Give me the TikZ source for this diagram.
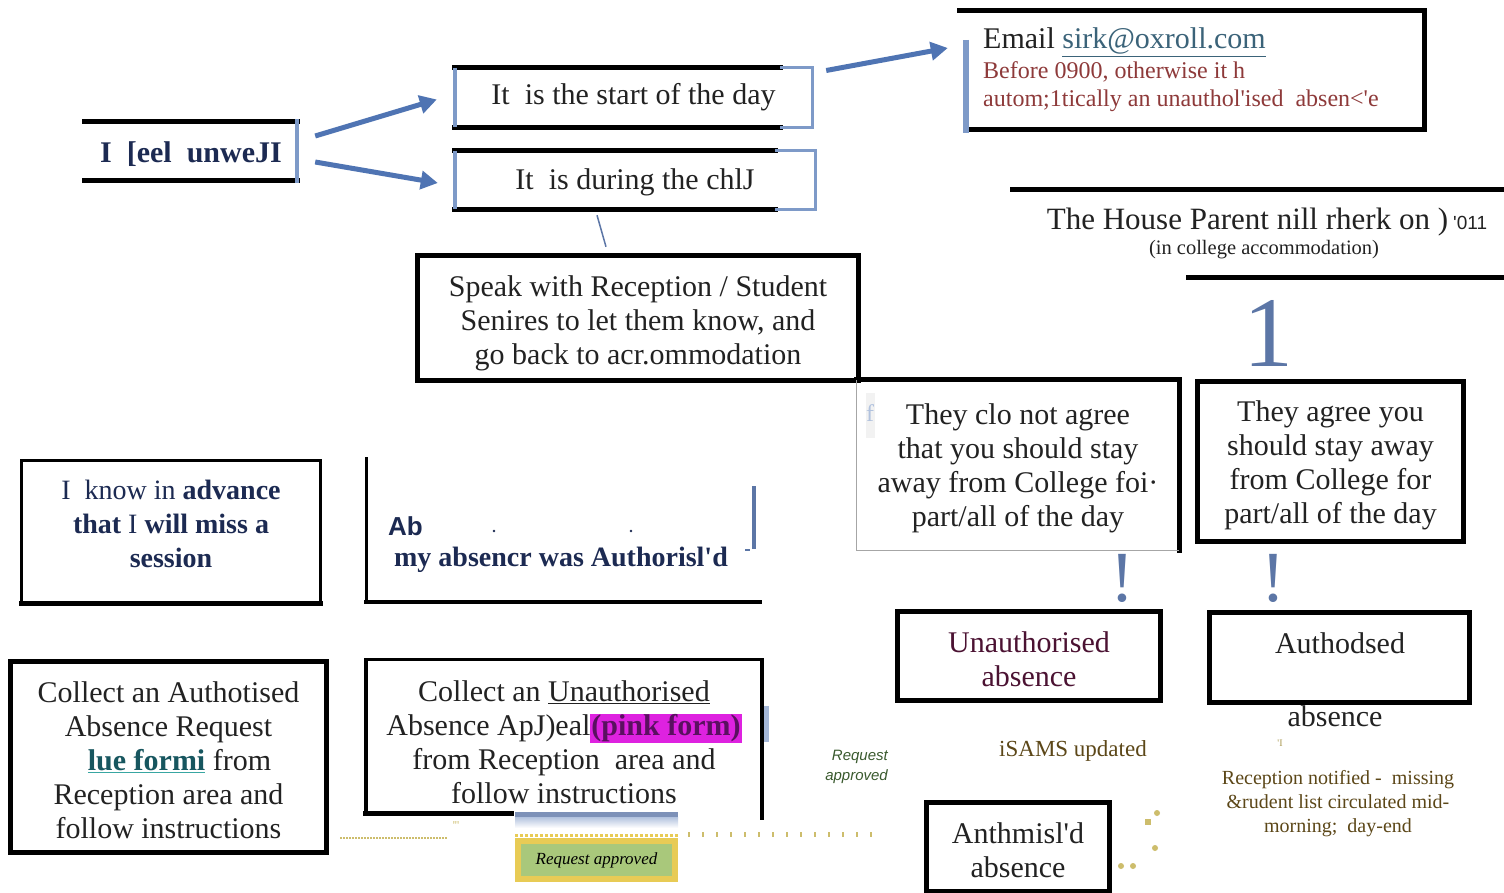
\documentclass[tikz,border=0pt]{standalone}
\usepackage{fontspec}
\setmainfont{Liberation Serif}
\setsansfont{Liberation Sans}
\usepackage{xcolor}
\usetikzlibrary{arrows.meta}

\definecolor{navy}{HTML}{1C2A52}
\definecolor{arrowblue}{HTML}{4F74B3}
\definecolor{edgeblue}{HTML}{7E9AC8}
\definecolor{markblue}{HTML}{5C76A6}
\definecolor{linkblue}{HTML}{3B6379}
\definecolor{notered}{HTML}{8E3A3A}
\definecolor{maroon}{HTML}{4B1232}
\definecolor{olive}{HTML}{5C4718}
\definecolor{leafgreen}{HTML}{3A5A2E}
\definecolor{tealtext}{HTML}{17565F}
\definecolor{tealline}{HTML}{38A6A2}
\definecolor{pinkhl}{HTML}{DE22E0}
\definecolor{pinktext}{HTML}{5A1060}
\definecolor{dotgold}{HTML}{CDBD6C}
\definecolor{boxyellow}{HTML}{E8CB55}
\definecolor{boxgreen}{HTML}{A9C87B}
\definecolor{textgray}{HTML}{222222}

\begin{document}
\begin{tikzpicture}[x=1pt,y=-1pt,>={Triangle[length=17pt,width=18pt]},
  txt/.style={align=center,inner sep=0pt,text=textgray,font=\fontsize{30}{34}\selectfont},
  bar/.style={line width=5pt,line cap=rect},
  thinbar/.style={line width=3pt,line cap=rect},
  bluebar/.style={line width=4pt,draw=edgeblue},
  arr/.style={->,line width=5pt,draw=arrowblue}]
\useasboundingbox (0,0) rectangle (1504,893);
\fill[white] (0,0) rectangle (1504,893);

% top row
\node[txt,font=\fontsize{30}{34}\selectfont\bfseries,text=navy,minimum width=212pt,minimum height=59pt] (feel) at (191,154) {I\ \ [eel\ \ unweJI};
\draw[bar] ([shift={(0,-3)}]feel.north west) -- ([shift={(0,-3)}]feel.north east);
\draw[bar] ([shift={(0,-3)}]feel.south west) -- ([shift={(0,-3)}]feel.south east);
\draw[bluebar] ([shift={(0,-5)}]feel.north east) -- ([shift={(0,-1)}]feel.south east);

\node[txt,minimum width=357pt,minimum height=59pt] (start) at (633.5,97.5) {It\ \ is the start of the day};
\draw[bar] (start.north west) -- ([shift={(-32,0)}]start.north east);
\draw[bar] (start.south west) -- ([shift={(-32,0)}]start.south east);
\draw[bluebar] (start.north west) -- (start.south west);
\draw[bluebar,line width=3pt] ([shift={(-32,0)}]start.north east) -- (start.north east) -- (start.south east) -- ([shift={(-32,0)}]start.south east);

\node[txt,minimum width=360pt,minimum height=58pt] (during) at (635,182) {It\ \ is during the chlJ};
\draw[bar] ([shift={(0,-2)}]during.north west) -- ([shift={(-40,-2)}]during.north east);
\draw[bar] ([shift={(0,-2)}]during.south west) -- ([shift={(-40,-2)}]during.south east);
\draw[bluebar] ([shift={(0,-2)}]during.north west) -- ([shift={(0,-2)}]during.south west);
\draw[bluebar,line width=3pt] ([shift={(-40,-2)}]during.north east) -- ([shift={(0,-2)}]during.north east) -- ([shift={(0,-2)}]during.south east) -- ([shift={(-40,-2)}]during.south east);

\node[minimum width=458pt,minimum height=118pt,inner sep=0pt] (email) at (1195,70) {};
\draw[bar] ([shift={(-6,0)}]email.north west) -- (email.north east) -- (email.south east);
\draw[bar] ([shift={(4,0)}]email.south west) -- (email.south east);
\draw[bluebar,line width=6pt] ([shift={(0,29)}]email.north west) -- ([shift={(0,4)}]email.south west);
\node[txt,anchor=base west] (emailhead) at (983,49) {Email {\color{linkblue}\underline{sirk@oxroll.com}}};
\node[txt,anchor=north west,align=left,text=notered,font=\fontsize{24}{28}\selectfont] (emailnote) at (983,61) {Before 0900, otherwise it h\\autom;1tically an unauthol\textquotesingle ised\ \ absen<\textquotesingle e};

\draw[arr] ([shift={(18,-18)}]feel.east) -- ([shift={(-18,2)}]start.west);
\draw[arr] ([shift={(18,8)}]feel.east) -- ([shift={(-17,1)}]during.west);
\draw[arr] ([shift={(14,-27)}]start.east) -- ([shift={(-18,-22)}]email.west);

% house parent
\draw[bar] (1012,190) -- (1504,190);
\node[txt,anchor=base,font=\fontsize{31}{34}\selectfont] (house) at (1267,230) {The House Parent nill rherk on )\,{\sffamily\fontsize{19}{20}\selectfont\textquotesingle 011}};
\node[txt,anchor=base,font=\fontsize{20.5}{24}\selectfont] (housenote) at (1264,255) {(in college accommodation)};
\draw[bar] (1188,278) -- (1504,278);
\node[txt,text=markblue,font=\fontsize{100}{100}\selectfont] (one) at (1268,333) {1};

% middle
\node[txt,minimum width=440pt,minimum height=124pt] (speak) at (638,323) {Speak with Reception / Student\\Senires to let them know, and\\go back to acr.ommodation};
\draw[bar] ([shift={(0,-5)}]speak.north west) rectangle ([shift={(0,-5)}]speak.south east);
\draw[markblue,line width=1.5pt] ([shift={(-38,4)}]during.south) -- ([shift={(-32,-14)}]speak.north);

\node[txt,minimum width=322pt,minimum height=170pt] (noagree) at (1018,468) {They clo not agree\\that you should stay\\away from College foi·\\part/all of the day};
\draw[bar] ([shift={(0,-3)}]noagree.north west) -- ([shift={(0,-3)}]noagree.north east) -- ([shift={(0,-3)}]noagree.south east);
\draw[gray!70,line width=1.2pt] ([shift={(0,-3)}]noagree.north west) -- ([shift={(0,-3)}]noagree.south west) -- ([shift={(0,-3)}]noagree.south east);
\fill[gray!10] (866,393) rectangle (875,438);
\node[inner sep=0pt,text=edgeblue!60,font=\fontsize{24}{24}\selectfont] (fmark) at (870,413) {f};

\node[txt,minimum width=265pt,minimum height=159pt] (agree) at (1330.5,465.5) {They agree you\\should stay away\\from College for\\part/all of the day};
\draw[bar] ([shift={(0,-4)}]agree.north west) rectangle ([shift={(0,-4)}]agree.south east);

\node[txt,text=markblue,font=\fontsize{72}{72}\selectfont] (warnno) at (1122,578) {!};
\node[txt,text=markblue,font=\fontsize{72}{72}\selectfont] (warnyes) at (1273,578) {!};

% advance
\node[minimum width=298pt,minimum height=142pt,inner sep=0pt] (know) at (171,532) {};
\draw[thinbar] (know.south west) -- (know.north west) -- (know.north east) -- (know.south east);
\draw[bar] (know.south west) -- (know.south east);
\node[txt,text=navy,font=\fontsize{28}{34}\selectfont] (knowtext) at (171,524) {I\ \ know in \textbf{advance}\\\textbf{that} I \textbf{will miss a}\\\textbf{session}};

\draw[thinbar] (366,458) -- (366,602);
\draw[bar,line width=4pt] (366,602) -- (760,602);
\node[inner sep=0pt,anchor=base west,text=navy,font=\sffamily\bfseries\fontsize{26}{30}\selectfont] (abtext) at (388,535) {Ab};
\fill[navy] (494,531) circle (1.3);
\fill[navy] (631,531) circle (1.3);
\node[txt,text=navy,font=\fontsize{28}{34}\selectfont\bfseries] (authd) at (561,560) {my absencr was Authorisl\textquotesingle d};
\draw[markblue,line width=4pt] (754,486) -- (754,549);
\draw[markblue,line width=2pt] (745,550) -- (750,550);

% forms
\node[txt,minimum width=315pt,minimum height=190pt] (authform) at (168.5,760) {Collect an Authotised\\Absence Request\\\hspace*{22pt}\textcolor{tealline}{\underline{\textcolor{tealtext}{\textbf{lue formi}}}} from\\Reception area and\\follow instructions};
\draw[bar] ([shift={(0,-3)}]authform.north west) rectangle ([shift={(0,-3)}]authform.south east);

\node[txt,minimum width=396pt,minimum height=153pt] (unauthform) at (564,742.5) {Collect an \underline{Unauthorised}\\Absence ApJ)eal{\setlength{\fboxsep}{1pt}\colorbox{pinkhl}{\textbf{\textcolor{pinktext}{(pink form)}}}}\\from Reception\ \ area and\\follow instructions};
\draw[thinbar] ([shift={(0,-6)}]unauthform.north west) -- ([shift={(0,-6)}]unauthform.north east);
\draw[bar,line width=4pt] ([shift={(0,-6)}]unauthform.north west) -- ([shift={(0,-6)}]unauthform.south west);
\draw[bar,line width=4pt] ([shift={(0,-6)}]unauthform.north east) -- ([shift={(0,-1)}]unauthform.south east);
\draw[bar] ([shift={(0,-6)}]unauthform.south west) -- ([shift={(146,-6)}]unauthform.south west);
\draw[edgeblue!70,line width=5pt] (766,706) -- (766,742);

\coordinate (dotsA) at (340,838);
\coordinate (dotsB) at (448,838);
\draw[dotgold,line width=1.5pt,dash pattern=on 1.5pt off 1.5pt] (dotsA) -- (dotsB);
\node[inner sep=0pt,text=dotgold,font=\fontsize{12}{12}\selectfont] (tickmark) at (456,826) {\textquotesingle\textquotesingle\textquotesingle};

\fill[markblue!80] (515,812) rectangle (678,817);
\shade[top color=edgeblue!60,bottom color=white] (515,817) rectangle (678,828);
\draw[boxyellow,line width=3pt,dash pattern=on 3pt off 2pt] (515,835) -- (678,835);
\node[draw=boxyellow,line width=6pt,fill=boxgreen,minimum width=157pt,minimum height=38pt,inner sep=0pt,font=\itshape\fontsize{17}{20}\selectfont] (approved) at (596.5,860) {Request approved};
\coordinate (dotend) at (882,834);
\draw[dotgold,line width=5pt,dash pattern=on 2pt off 12pt] ([shift={(10,-26)}]approved.east) -- (dotend);

\node[inner sep=0pt,anchor=east,align=right,text=leafgreen,font=\sffamily\itshape\fontsize{15}{20}\selectfont] (reqnote) at (888,767) {Request\\approved};

% outcomes
\node[txt,text=maroon,minimum width=262pt,minimum height=88pt] (unauth) at (1029,659) {Unauthorised\\absence};
\draw[bar] ([shift={(0,-3)}]unauth.north west) rectangle ([shift={(0,-3)}]unauth.south east);

\node[minimum width=259pt,minimum height=89pt,inner sep=0pt] (authod) at (1339.5,657.5) {};
\draw[bar] (authod.north west) rectangle (authod.south east);
\node[txt] (authodtext) at (1340,643) {Authodsed};
\node[txt] (authodabs) at (1335,716) {absence};

\node[txt,text=olive,font=\fontsize{23}{26}\selectfont] (isams) at (1073,751) {iSAMS updated};
\node[inner sep=0pt,text=dotgold!70!olive,font=\fontsize{10}{10}\selectfont] (imark) at (1280,743) {\textquotesingle I};
\node[txt,text=olive,font=\fontsize{20}{24}\selectfont] (recept) at (1338,804) {Reception notified -\ \ missing\\\&rudent list circulated mid-\\morning;\ \ day-end};

\node[txt,minimum width=182pt,minimum height=88pt] (anthm) at (1018,850) {Anthmisl\textquotesingle d\\absence};
\draw[bar] ([shift={(0,-3)}]anthm.north west) rectangle ([shift={(0,-3)}]anthm.south east);
\foreach \px/\py in {1157/813,1155/848,1121/866,1133/866} {
\fill[dotgold] (\px,\py) circle (3);
}
\fill[dotgold] (1145,819) rectangle (1151,825);
\end{tikzpicture}
\end{document}
